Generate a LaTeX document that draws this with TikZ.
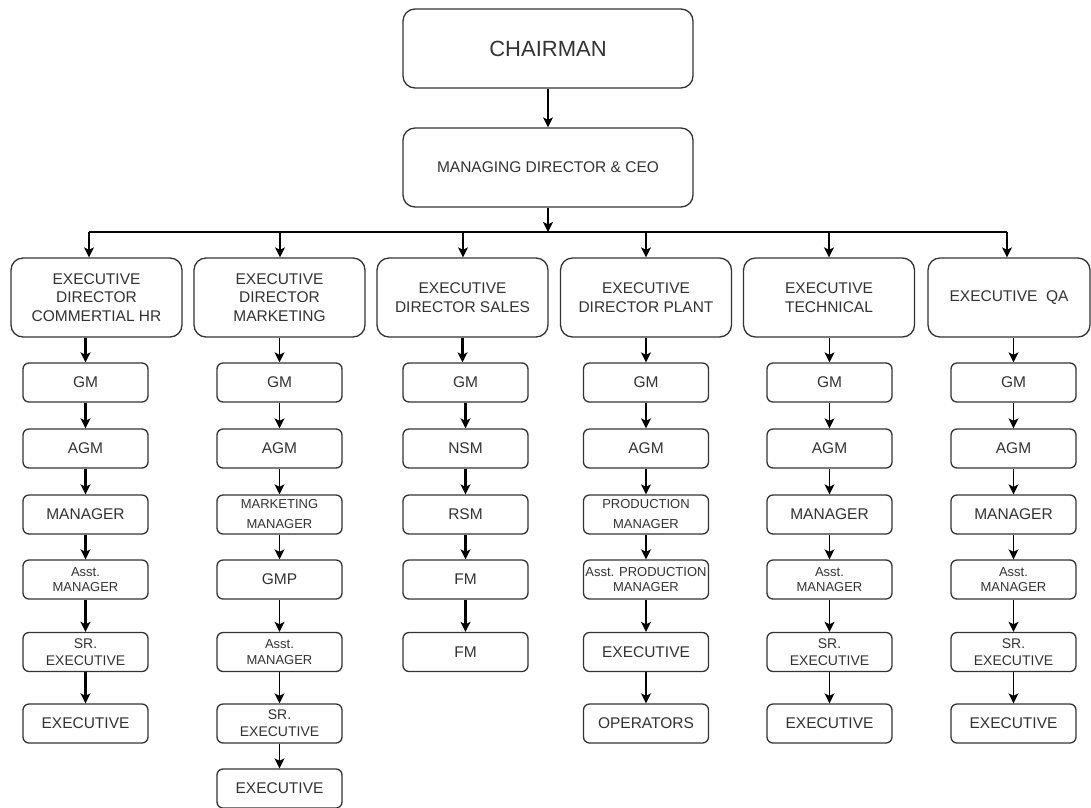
\documentclass[tikz,border=0pt]{standalone}
\usepackage{fontspec}
\setmainfont{Liberation Sans}
\usetikzlibrary{arrows.meta}
\definecolor{ink}{HTML}{333333}
\begin{document}
\begin{tikzpicture}[x=1pt,y=-1pt,
  box/.style={draw=ink, line width=1.3pt, fill=white, text=ink, align=center, inner sep=0pt,
    rounded corners=6pt, minimum width=125pt, minimum height=39pt,
    font=\fontsize{15.5}{18.6}\selectfont},
  sm/.style={box, font=\fontsize{13}{15.3}\selectfont},
  smw/.style={box, font=\fontsize{13}{20}\selectfont},
  sr/.style={box, font=\fontsize{14}{17}\selectfont},
  top/.style={box, rounded corners=12pt, minimum width=290pt, minimum height=79pt},
  edbox/.style={box, rounded corners=12pt, minimum width=171pt, minimum height=79pt,
    font=\fontsize{15.5}{18.7}\selectfont},
  arr/.style={-{Stealth[length=10pt,width=10pt,inset=2.5pt]}, line width=1.5pt, black},
  arrk/.style={arr, line width=2.1pt},
  conn/.style={line width=1.5pt, black}
]
\path[use as bounding box, clip] (0,0) rectangle (1091,807);

% top
\node[top, font=\fontsize{22}{26}\selectfont] (ch) at (548,48.5) {CHAIRMAN};
\node[top] (md) at (548,167.5) {MANAGING DIRECTOR \& CEO};

% executive directors
\node[edbox] (ed1) at (96.5,297.5) {EXECUTIVE\\DIRECTOR\\COMMERTIAL HR};
\node[edbox] (ed2) at (279.5,297.5) {EXECUTIVE\\DIRECTOR\\MARKETING};
\node[edbox] (ed3) at (462.5,297.5) {EXECUTIVE\\DIRECTOR SALES};
\node[edbox] (ed4) at (646,297.5) {EXECUTIVE\\DIRECTOR PLANT};
\node[edbox] (ed5) at (829,297.5) {EXECUTIVE\\TECHNICAL};
\node[edbox, minimum width=162pt] (ed6) at (1009,297.5) {EXECUTIVE~~QA};

% junction and bus
\coordinate (j) at (548,232);
\coordinate (t1) at (89,232);
\coordinate (t2) at (280,232);
\coordinate (t3) at (463,232);
\coordinate (t4) at (646,232);
\coordinate (t5) at (829,232);
\coordinate (t6) at (1007,232);

\draw[arr] (ch) -- (md);
\draw[conn] (t1) -- (t6);
\draw[arr] (md) -- (j);
\foreach \i in {1,...,6} { \draw[arr] (t\i) -- (t\i |- ed\i.north); }

% column 1
\node[box] (a1) at (85.5,382.5) {GM};
\node[box] (a2) at (85.5,448.5) {AGM};
\node[box] (a3) at (85.5,514.5) {MANAGER};
\node[sm]  (a4) at (85.5,579.5) {Asst.\\MANAGER};
\node[sr]  (a5) at (85.5,652) {SR.\\EXECUTIVE};
\node[box] (a6) at (85.5,723.5) {EXECUTIVE};

% column 2
\node[box] (b1) at (279.5,382.5) {GM};
\node[box] (b2) at (279.5,448.5) {AGM};
\node[smw] (b3) at (279.5,514.5) {MARKETING\\MANAGER};
\node[box] (b4) at (279.5,579.5) {GMP};
\node[sm]  (b5) at (279.5,652) {Asst.\\MANAGER};
\node[sr]  (b6) at (279.5,723.5) {SR.\\EXECUTIVE};
\node[box] (b7) at (279.5,788.5) {EXECUTIVE};

% column 3
\node[box] (c1) at (465.5,382.5) {GM};
\node[box] (c2) at (465.5,448.5) {NSM};
\node[box] (c3) at (465.5,514.5) {RSM};
\node[box] (c4) at (465.5,579.5) {FM};
\node[box] (c5) at (465.5,652) {FM};

% column 4
\node[box] (d1) at (646,382.5) {GM};
\node[box] (d2) at (646,448.5) {AGM};
\node[smw] (d3) at (646,514.5) {PRODUCTION\\MANAGER};
\node[sm]  (d4) at (646,579.5) {Asst. PRODUCTION\\MANAGER};
\node[box] (d5) at (646,652) {EXECUTIVE};
\node[box] (d6) at (646,723.5) {OPERATORS};

% column 5
\node[box] (e1) at (829.5,382.5) {GM};
\node[box] (e2) at (829.5,448.5) {AGM};
\node[box] (e3) at (829.5,514.5) {MANAGER};
\node[sm]  (e4) at (829.5,579.5) {Asst.\\MANAGER};
\node[sr]  (e5) at (829.5,652) {SR.\\EXECUTIVE};
\node[box] (e6) at (829.5,723.5) {EXECUTIVE};

% column 6
\node[box] (f1) at (1013.5,382.5) {GM};
\node[box] (f2) at (1013.5,448.5) {AGM};
\node[box] (f3) at (1013.5,514.5) {MANAGER};
\node[sm]  (f4) at (1013.5,579.5) {Asst.\\MANAGER};
\node[sr]  (f5) at (1013.5,652) {SR.\\EXECUTIVE};
\node[box] (f6) at (1013.5,723.5) {EXECUTIVE};

% executive -> GM
\draw[arrk] (a1.north |- ed1.south) -- (a1.north);
\draw[arr]  (b1.north |- ed2.south) -- (b1.north);
\draw[arrk] (ed3.south) -- (ed3.south |- c1.north);
\draw[arr]  (d1.north |- ed4.south) -- (d1.north);
\draw[arr]  (e1.north |- ed5.south) -- (e1.north);
\draw[arr]  (f1.north |- ed6.south) -- (f1.north);

% chains
\foreach \p/\q in {a1/a2,a2/a3,a3/a4,a4/a5,a5/a6,c1/c2,c2/c3,c3/c4,c4/c5}
  { \draw[arrk] (\p) -- (\q); }
\foreach \p/\q in {b1/b2,b2/b3,b3/b4,b4/b5,b5/b6,b6/b7,
                   d1/d2,d2/d3,d3/d4,d4/d5,d5/d6,
                   e1/e2,e2/e3,e3/e4,e4/e5,e5/e6,
                   f1/f2,f2/f3,f3/f4,f4/f5,f5/f6}
  { \draw[arr] (\p) -- (\q); }
\end{tikzpicture}
\end{document}
